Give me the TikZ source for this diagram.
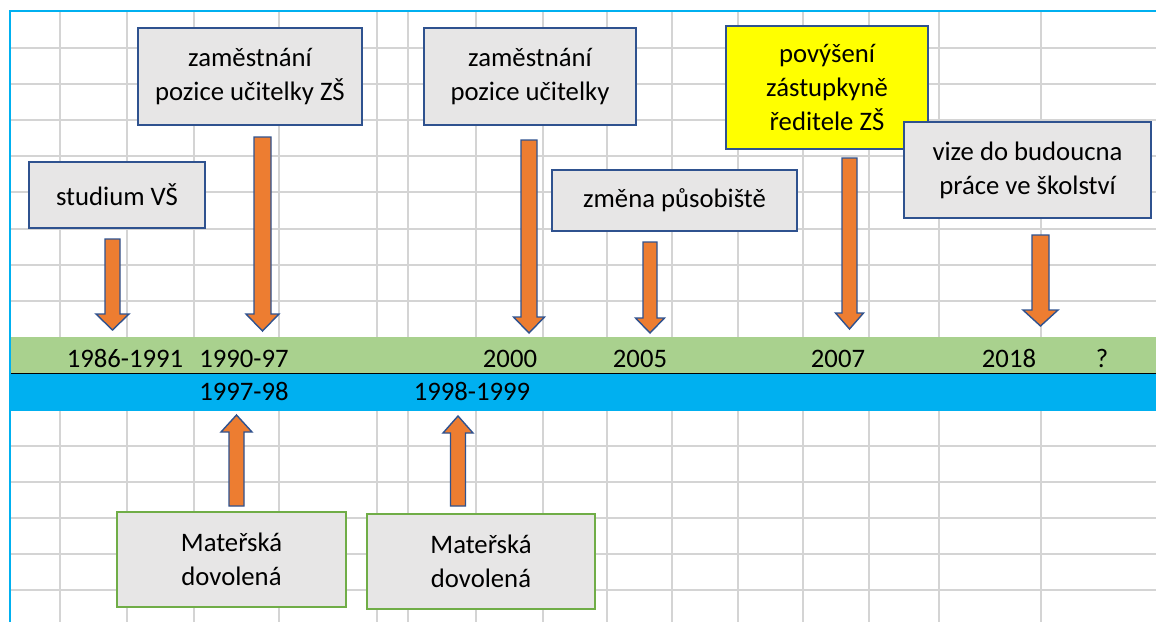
\documentclass[tikz,border=0pt]{standalone}
\usepackage{fontspec}
\setmainfont{Carlito}
\definecolor{gridgray}{HTML}{D4D4D4}
\definecolor{bandgreen}{HTML}{A9D18E}
\definecolor{bandblue}{HTML}{00B0F0}
\definecolor{boxfill}{HTML}{E7E6E6}
\definecolor{boxline}{HTML}{2F528F}
\definecolor{greenline}{HTML}{70AD47}
\definecolor{arrowfill}{HTML}{ED7D31}
\definecolor{hiyellow}{HTML}{FFFF00}

% block arrow: centre x, flat end y, head base y, tip y, shaft half width, head half width
\newcommand\blockarrow[6]{%
  \draw[blockarrow] (#1-#5,#2) -- (#1+#5,#2) -- (#1+#5,#3) -- (#1+#6,#3)
    -- (#1,#4) -- (#1-#6,#3) -- (#1-#5,#3) -- cycle;}

\begin{document}
\begin{tikzpicture}[x=1pt,y=-1pt,
  gridline/.style={draw=gridgray, line width=1.5pt},
  txt/.style={font=\fontsize{26.7}{34}\selectfont, align=center, inner sep=0pt},
  bluebox/.style={txt, draw=boxline, line width=1.6pt, fill=boxfill},
  greenbox/.style={txt, draw=greenline, line width=2.4pt, fill=boxfill},
  yellowbox/.style={bluebox, fill=hiyellow},
  yearlabel/.style={txt, anchor=base},
  blockarrow/.style={draw=boxline, line width=1.4pt, fill=arrowfill, line join=miter}]
\useasboundingbox (0,0) rectangle (1156,622);
\fill[white] (0,0) rectangle (1156,622);

% spreadsheet grid
\foreach \x in {60,127,194,279,377,408,476,543,607,672,738,803,869,939,1041}
  \draw[gridline] (\x,12) -- (\x,622);
\foreach \y in {48,84,120,156,192,229,265,301,446,482,518,554,590}
  \draw[gridline] (10,\y) -- (1156,\y);

% timeline bands
\fill[bandgreen] (10,337) rectangle (1156,373);
\fill[bandblue] (10,373) rectangle (1156,411);
\draw[black, line width=0.8pt] (10,373) -- (1156,373);

% frame
\draw[bandblue, line width=2pt] (9.5,622) -- (9.5,11) -- (1156,11);

% events above the timeline
\node[bluebox, minimum width=176, minimum height=66] (study) at (117,195) {studium VŠ};
\node[bluebox, minimum width=224, minimum height=97] (jobzs) at (250,76.5) {zaměstnání\\pozice učitelky ZŠ};
\node[bluebox, minimum width=212, minimum height=97] (job) at (530,76.5) {zaměstnání\\pozice učitelky};
\node[bluebox, minimum width=245, minimum height=61] (move) at (674.5,200.5) {změna působiště};
\node[yellowbox, minimum width=202, minimum height=123] (promo) at (827,87.5) {povýšení\\zástupkyně\\ředitele ZŠ};
\node[bluebox, minimum width=247, minimum height=96] (vision) at (1027.5,170) {vize do budoucna\\práce ve školství};

% events below the timeline
\node[greenbox, minimum width=229, minimum height=95] (leave1) at (231.5,559.5) {Mateřská\\dovolená};
\node[greenbox, minimum width=228, minimum height=95] (leave2) at (481,561.5) {Mateřská\\dovolená};

% arrows pointing at the timeline
\blockarrow{112.5}{239}{314}{330}{7.5}{16.5}
\blockarrow{262.5}{137}{314}{331}{8.5}{16.5}
\blockarrow{529}{140}{317}{333}{8}{15.5}
\blockarrow{650}{242}{318}{333}{7}{14.5}
\blockarrow{849.5}{158}{313}{329}{7.5}{14}
\blockarrow{1040.5}{235}{310}{326}{8.5}{17.5}
\blockarrow{236.5}{506}{432}{415}{7.5}{15.5}
\blockarrow{458}{506}{433}{416}{7.5}{15}

% years
\node[yearlabel] (y1986) at (125,367) {1986-1991};
\node[yearlabel] (y1990) at (244,367) {1990-97};
\node[yearlabel] (y2000) at (510,367) {2000};
\node[yearlabel] (y2005) at (640,367) {2005};
\node[yearlabel] (y2007) at (838,367) {2007};
\node[yearlabel] (y2018) at (1009,367) {2018};
\node[yearlabel] (yq) at (1102,367) {?};
\node[yearlabel] (y1997) at (244,400) {1997-98};
\node[yearlabel] (y1998) at (472,400) {1998-1999};
\end{tikzpicture}
\end{document}
